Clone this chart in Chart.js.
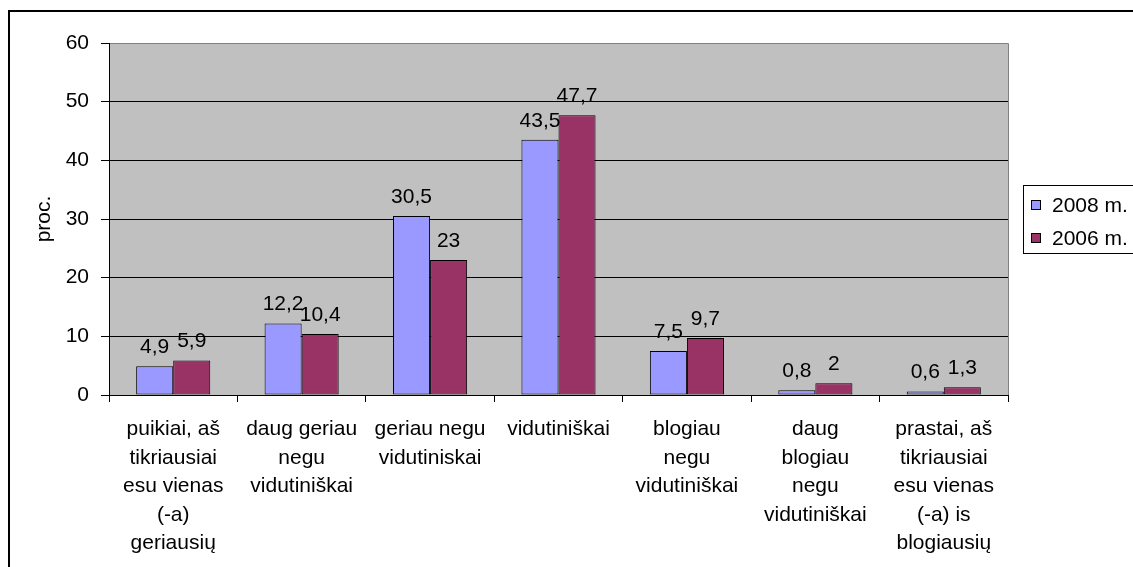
<!DOCTYPE html>
<html>
<head>
<meta charset="utf-8">
<script src="https://cdn.jsdelivr.net/npm/chart.js@4.4.0/dist/chart.umd.min.js"></script>
<style>
  html, body { margin: 0; padding: 0; background: #fff; }
  #wrap { width: 1133px; height: 567px; }
</style>
</head>
<body>
<div id="wrap"><canvas id="chart"></canvas></div>
<script>
"use strict";

// DATA -----------------------
const categories = [
  ["puikiai, aš", "tikriausiai", "esu vienas", "(-a)", "geriausių"],
  ["daug geriau", "negu", "vidutiniškai"],
  ["geriau negu", "vidutiniskai"],
  ["vidutiniškai"],
  ["blogiau", "negu", "vidutiniškai"],
  ["daug", "blogiau", "negu", "vidutiniškai"],
  ["prastai, aš", "tikriausiai", "esu vienas", "(-a) is", "blogiausių"]
];
const values2008 = [4.9, 12.2, 30.5, 43.5, 7.5, 0.8, 0.6];
const values2006 = [5.9, 10.4, 23, 47.7, 9.7, 2, 1.3];
const seriesNames = ["2008 m.", "2006 m."];
const seriesColors = ["#9999FF", "#993366"];
const yMin = 0, yMax = 60, yStep = 10;
const yTitle = "proc.";

const FONT = "'Liberation Sans', Arial, sans-serif";
const FONT_SIZE = 21;

// PLUGINS -----------------------
// grey plot area + grey top/right border, outer chart frame
const plotArea = {
  id: 'plotArea',
  beforeDraw(chart) {
    const {ctx, chartArea: a} = chart;
    ctx.save();
    ctx.fillStyle = '#C0C0C0';
    ctx.fillRect(a.left, a.top, a.right - a.left, a.bottom - a.top);
    ctx.strokeStyle = '#808080';
    ctx.lineWidth = 1;
    ctx.beginPath();
    ctx.moveTo(a.left, a.top + 0.5);
    ctx.lineTo(a.right + 0.5, a.top + 0.5);
    ctx.lineTo(a.right + 0.5, a.bottom);
    ctx.stroke();
    ctx.restore();
  },
  afterDraw(chart) {
    const ctx = chart.ctx;
    ctx.save();
    ctx.strokeStyle = '#000';
    ctx.lineWidth = 2;
    ctx.strokeRect(9, 11, 1400, 800);
    ctx.restore();
  }
};

// value labels above the bars, with comma decimals
const valueLabels = {
  id: 'valueLabels',
  afterDatasetsDraw(chart) {
    const ctx = chart.ctx;
    ctx.save();
    ctx.font = FONT_SIZE + "px " + FONT;
    ctx.fillStyle = '#000';
    ctx.textAlign = 'center';
    ctx.textBaseline = 'alphabetic';
    chart.data.datasets.forEach(function(ds, i) {
      const meta = chart.getDatasetMeta(i);
      meta.data.forEach(function(bar, j) {
        const txt = String(ds.data[j]).replace('.', ',');
        ctx.fillText(txt, bar.x, bar.y - 13);
      });
    });
    ctx.restore();
  }
};

// Excel-like boxed legend on the right
const boxLegend = {
  id: 'boxLegend',
  afterDraw(chart) {
    const ctx = chart.ctx;
    const left = 1023, top = 185, bottom = 253;
    ctx.save();
    ctx.strokeStyle = '#000';
    ctx.lineWidth = 1;
    ctx.strokeRect(left + 0.5, top + 0.5, 300, bottom - top);
    ctx.font = FONT_SIZE + "px " + FONT;
    ctx.textBaseline = 'middle';
    ctx.textAlign = 'left';
    chart.data.datasets.forEach(function(ds, i) {
      const cy = 205 + i * 33;
      ctx.fillStyle = ds.backgroundColor;
      ctx.fillRect(1031, cy - 5, 10, 10);
      ctx.strokeRect(1031.5, cy - 4.5, 9, 9);
      ctx.fillStyle = '#000';
      ctx.fillText(ds.label, 1052, cy + 1);
    });
    ctx.restore();
  }
};

// CHART -----------------------
const chart = new Chart(document.getElementById('chart'), {
  type: 'bar',
  data: {
    labels: categories,
    datasets: [{
      label: seriesNames[0],
      data: values2008,
      backgroundColor: seriesColors[0],
      borderColor: '#000',
      borderWidth: 1,
      borderSkipped: false
    }, {
      label: seriesNames[1],
      data: values2006,
      backgroundColor: seriesColors[1],
      borderColor: '#000',
      borderWidth: 1,
      borderSkipped: false
    }]
  },
  options: {
    responsive: true,
    maintainAspectRatio: false,
    animation: false,
    events: [],
    layout: { padding: { left: 0, top: 43, right: 125, bottom: 0 } },
    datasets: {
      bar: { categoryPercentage: 0.577, barPercentage: 1 }
    },
    plugins: {
      legend: { display: false },
      tooltip: { enabled: false }
    },
    scales: {
      x: {
        offset: true,
        afterFit(scale) { scale.height = 172; },
        grid: {
          offset: true,
          drawOnChartArea: false,
          drawTicks: true,
          tickLength: 7,
          tickColor: '#000'
        },
        border: { color: '#000', width: 1 },
        ticks: {
          color: '#000',
          padding: 13,
          maxRotation: 0,
          autoSkip: false,
          font: { family: FONT, size: FONT_SIZE, lineHeight: 1.36 }
        }
      },
      y: {
        min: yMin,
        max: yMax,
        afterFit(scale) { scale.width = 109; },
        grid: {
          color: function(ctx) { return ctx.tick && ctx.tick.value === yMax ? '#808080' : '#000'; },
          tickColor: '#000',
          tickLength: 8
        },
        border: { color: '#000', width: 1 },
        ticks: {
          stepSize: yStep,
          color: '#000',
          padding: 12,
          font: { family: FONT, size: FONT_SIZE }
        },
        title: {
          display: true,
          text: yTitle,
          color: '#000',
          padding: { top: 32, bottom: 0 },
          font: { family: FONT, size: FONT_SIZE }
        }
      }
    }
  },
  plugins: [plotArea, valueLabels, boxLegend]
});
</script>
</body>
</html>
